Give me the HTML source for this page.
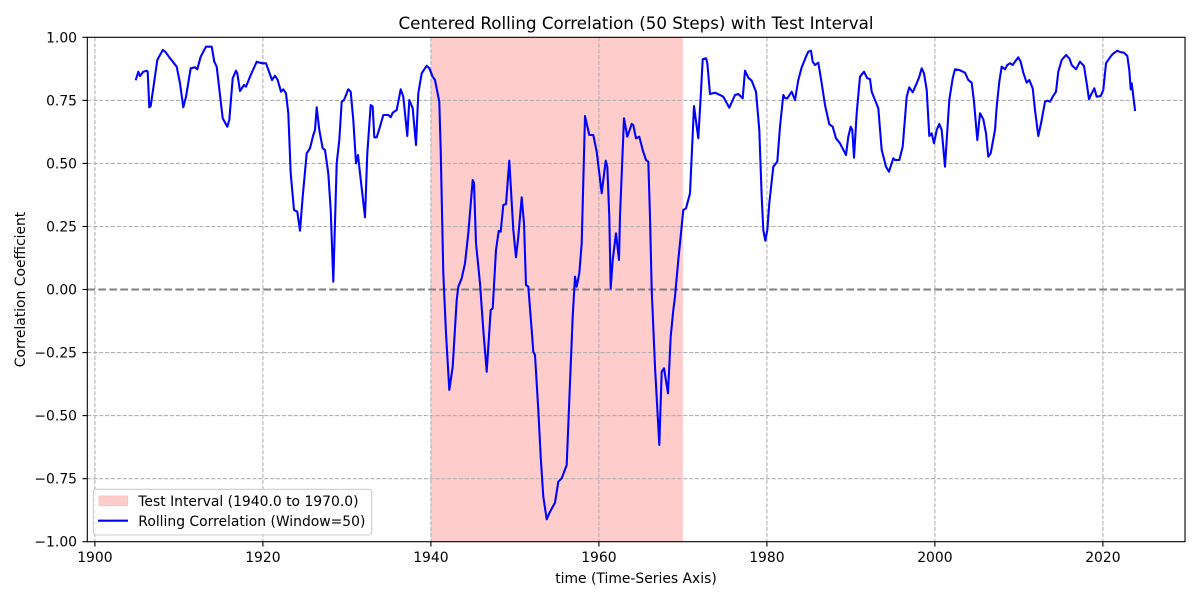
<!DOCTYPE html>
<html><head><meta charset="utf-8"><style>
html,body{margin:0;padding:0;background:#fff;}
svg{display:block;font-family:"DejaVu Sans","Liberation Sans",sans-serif;}
</style></head><body>
<svg width="1200" height="600" viewBox="0 0 1200 600" xmlns="http://www.w3.org/2000/svg">
<rect x="0" y="0" width="1200" height="600" fill="#fff"/>
<!-- test interval -->
<rect x="430.9" y="37.3" width="252" height="504.4" fill="rgb(255,204,204)"/>
<!-- grid -->
<g stroke="#b0b0b0" stroke-width="1.1" stroke-dasharray="4.1 1.8" fill="none">
<line x1="94.9" y1="37.3" x2="94.9" y2="541.7"/>
<line x1="262.9" y1="37.3" x2="262.9" y2="541.7"/>
<line x1="430.9" y1="37.3" x2="430.9" y2="541.7"/>
<line x1="598.9" y1="37.3" x2="598.9" y2="541.7"/>
<line x1="766.9" y1="37.3" x2="766.9" y2="541.7"/>
<line x1="934.9" y1="37.3" x2="934.9" y2="541.7"/>
<line x1="1102.9" y1="37.3" x2="1102.9" y2="541.7"/>
<line x1="87.3" y1="100.4" x2="1185" y2="100.4"/>
<line x1="87.3" y1="163.4" x2="1185" y2="163.4"/>
<line x1="87.3" y1="226.5" x2="1185" y2="226.5"/>
<line x1="87.3" y1="352.6" x2="1185" y2="352.6"/>
<line x1="87.3" y1="415.6" x2="1185" y2="415.6"/>
<line x1="87.3" y1="478.7" x2="1185" y2="478.7"/>
</g>
<line x1="87.3" y1="289.5" x2="1185" y2="289.5" stroke="#808080" stroke-width="2" stroke-dasharray="7.7 3.3"/>
<!-- series -->
<polyline fill="none" stroke="#0000ff" stroke-width="2.08" stroke-linejoin="round" stroke-linecap="square" points="
136,79.3 138.3,71.7 140,76 143.3,71.7 146.7,70.7 147.7,71.7 149.3,107.3 150.7,106 154,83.3 157.3,60 162.7,50 165.3,51.7 169.3,57.3 176.7,66.7 180,83.3 183.3,107.3 186,96.7 190.7,68.3 195,67.3 197.3,69.3 200.7,56.7 206,46.7 211.7,46.7 214.3,61.7 216.7,66.7 222.7,118.3 227.3,126.7 229.3,120 232.7,78.3 236,70.7 237.3,73.3 240,91 244,85 246,86.7 250,76.7 256.7,61.7 260,62.7 262.7,63.3 266,63.3 272,80 275,75.7 277.7,80 281,91.7 283.3,89.3 286,93.3 288.3,113.3 290.7,173.3 294,210 297.3,211.7 300,230.7 302.7,196.7 306.7,153.3 310,148.3 313.3,135 315,130 316.7,107.3 319.3,130 322.7,148.3 325,150 328.3,173.3 330.7,210 333.3,281.7 336.7,163.3 339.3,140 341.7,101.7 344,100 348.3,89.3 350.7,91.7 353.3,120 356,163.3 358,155 360,173.3 365,217.3 367.3,153.3 370.7,105 372.7,106.7 374.3,137.3 376.7,137.3 380,126.7 383.3,115 388.3,115 390.7,117.3 392.7,112.7 396.7,110 400.7,89.3 403.3,96.7 407.3,136 409.3,100 412.7,108.3 416,145 418.3,93.3 421.7,73.3 426.7,65.7 429.3,68.3 432.7,76.7 435,80 439.3,101.7
440.7,150 443.3,273.3 446,333.3 449.3,390 452.7,366.7 456.7,300 458.3,286.7 461.7,278.3 465,263.3 468.3,233.3 472.7,180 474,183 476,243.3 480,283.3 483.3,330 486.7,371.7 490.7,310 492.7,308.3 496,250 498.7,231 500.7,231.7 503.3,205 506,204 509.3,160.7 513.3,230 516,257.3 518.3,236.7 521.7,197.3 524,223.3 526,285 528.3,286.7 531.7,330 533.3,351.7 535,355 538.3,410 540.7,456.7 543.3,496.7 546.7,519.3 550,511.7 555,502.7 558.3,481.7 561.7,478.3 566.7,465 569.3,400 572.7,316.7 575,276.7 576.7,286.7 579.3,273.3 581.7,243.3 585,116 589.3,135 593.3,135 596.7,151.7 601.7,193.3 605.7,160.7 607.3,166.7 609.3,216.7 610.7,288.3 612.7,260 616,233.3 619,260 620,216 624,118.3 627.3,136.7 631.7,124 633.3,125 636,138.3 639.3,136.7 642.7,150 646,160 648.3,161.7 650,216.7 651.7,290 655,366.7 659.3,445 661.7,371.7 664,368.3 668,393.3 670.7,336.7 673.3,310 675,296.7 678.3,260 683.3,210 686,208.3 690,193.3 694,106 698.3,138.3 700.7,96.7 702.7,59.3 706,58.3 707.3,63 710,94
715,92.7 720,95 723.3,96.7 729.3,107.7 735,95 738.3,94 742.7,98.3 745,70.7 748.3,77.7 751.7,80.7 756,91.7 759.3,130 761.7,196.7 763.3,230 765.3,240.7 767.3,230 769.3,203.3 773.3,166.7 777.3,161.7 780,126.7 783.3,95 785,98 787.3,98.3 791.7,91.7 795,100 798.3,80 801.7,67.3 806,56.7 808.3,51.7 811,50.7 812.7,61.7 815,65 818.3,62.7 821.7,83.3 825,105 829.3,124.3 832.7,126.7 836,138.3 840,143.3 846,155 848.3,136.7 850.7,126.7 852.3,130 854,157.7 856.7,113.3 860,76.7 864,71.7 867.3,78.3 870,79 871.7,91.7 875,100 878.3,108.3 881.7,150 886,166.7 889,171.7 893.3,158.3 895,160 899.3,160 902.7,146.7 906.7,96.7 909.3,87.3 912.7,92.3 916.7,83.3 919.3,76.7 921.7,68.3 924,73.3 926.7,90 929.3,136 931.7,133.3 934,143.3 936.7,130 939.3,124 941.7,130 945,166.7 946.7,140 949.3,100 952.7,78.3 955,69.3 959.3,70 965,72.7 968.3,80 971.7,82.7 974,101.7 977.3,140 980,113.3 983.3,119.3 986,133.3 988.3,156.7 990.7,153.3 995,130 996.7,106.7 999.3,81.7 1001.7,66.7 1005,69.3 1007.3,65 1010,63.3 1012.7,65 1015,61.7 1018.3,57.3 1020.7,61.7 1023.3,72.7 1026.7,82.7 1029.3,80 1032.7,88.3 1035,110 1038.3,136 1041.7,120 1045,101.7 1047.3,100.7 1050,101.7 1052.7,96.7 1056,91.7 1058.3,71.7 1061.7,60 1066,55 1069.3,58.3 1071.7,65 1076,69.3 1080,61.7 1084,66 1086.7,83.3 1089,99.3 1091.7,93.3 1094.3,88.3 1096.7,96.7 1100.7,96 1103.3,90 1106,63.3 1110,57.3 1112.7,54 1117.3,50.7 1120,52 1124,52.7 1127.3,56 1129.3,70 1130.7,89.3 1131.7,83.3 1135,110"/>
<!-- spines -->
<rect x="87.3" y="37.3" width="1097.7" height="504.4" fill="none" stroke="#000" stroke-width="1.1"/>
<!-- ticks -->
<g stroke="#000" stroke-width="1.1">
<line x1="94.9" y1="541.7" x2="94.9" y2="546.6"/>
<line x1="262.9" y1="541.7" x2="262.9" y2="546.6"/>
<line x1="430.9" y1="541.7" x2="430.9" y2="546.6"/>
<line x1="598.9" y1="541.7" x2="598.9" y2="546.6"/>
<line x1="766.9" y1="541.7" x2="766.9" y2="546.6"/>
<line x1="934.9" y1="541.7" x2="934.9" y2="546.6"/>
<line x1="1102.9" y1="541.7" x2="1102.9" y2="546.6"/>
<line x1="82.4" y1="37.3" x2="87.3" y2="37.3"/>
<line x1="82.4" y1="100.4" x2="87.3" y2="100.4"/>
<line x1="82.4" y1="163.4" x2="87.3" y2="163.4"/>
<line x1="82.4" y1="226.5" x2="87.3" y2="226.5"/>
<line x1="82.4" y1="289.5" x2="87.3" y2="289.5"/>
<line x1="82.4" y1="352.6" x2="87.3" y2="352.6"/>
<line x1="82.4" y1="415.6" x2="87.3" y2="415.6"/>
<line x1="82.4" y1="478.7" x2="87.3" y2="478.7"/>
<line x1="82.4" y1="541.7" x2="87.3" y2="541.7"/>
</g>
<g font-size="13.9" fill="#000" text-anchor="middle">
<text x="94.9" y="562">1900</text>
<text x="262.9" y="562">1920</text>
<text x="430.9" y="562">1940</text>
<text x="598.9" y="562">1960</text>
<text x="766.9" y="562">1980</text>
<text x="934.9" y="562">2000</text>
<text x="1102.9" y="562">2020</text>
</g>
<g font-size="13.9" fill="#000" text-anchor="end">
<text x="77" y="42.3">1.00</text>
<text x="77" y="105.4">0.75</text>
<text x="77" y="168.4">0.50</text>
<text x="77" y="231.5">0.25</text>
<text x="77" y="294.5">0.00</text>
<text x="77" y="357.6">−0.25</text>
<text x="77" y="420.6">−0.50</text>
<text x="77" y="483.7">−0.75</text>
<text x="77" y="546.7">−1.00</text>
</g>
<text x="636" y="583" font-size="13.9" text-anchor="middle">time (Time-Series Axis)</text>
<text transform="translate(25,289.5) rotate(-90)" font-size="13.9" text-anchor="middle">Correlation Coefficient</text>
<text x="636" y="29" font-size="16.7" text-anchor="middle">Centered Rolling Correlation (50 Steps) with Test Interval</text>
<!-- legend -->
<rect x="93.3" y="489.3" width="278.4" height="45.7" rx="3" ry="3" fill="#fff" fill-opacity="0.8" stroke="#cccccc" stroke-width="1.1"/>
<rect x="99" y="496" width="28.7" height="9.7" fill="rgb(255,204,204)" stroke="rgb(255,190,190)" stroke-width="0.8"/>
<line x1="98" y1="520.7" x2="128" y2="520.7" stroke="#0000ff" stroke-width="2.08"/>
<g font-size="13.9" fill="#000">
<text x="138.3" y="506">Test Interval (1940.0 to 1970.0)</text>
<text x="138.3" y="526">Rolling Correlation (Window=50)</text>
</g>
</svg>
</body></html>
